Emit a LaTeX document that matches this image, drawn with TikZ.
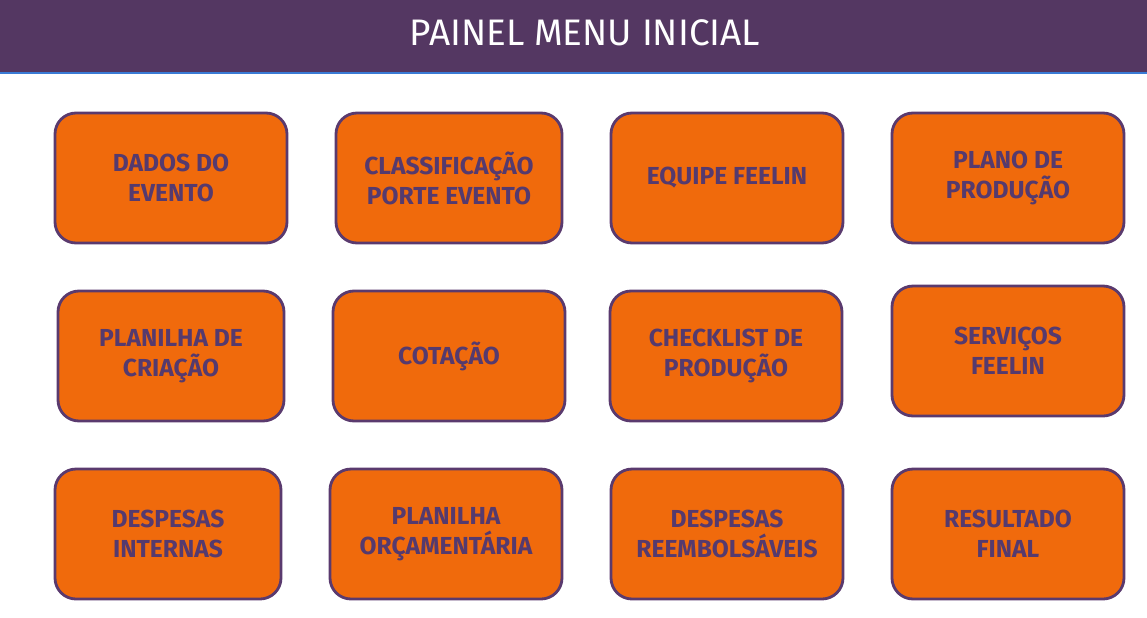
\documentclass[tikz,border=0pt]{standalone}
\usepackage{fontspec}
\setmainfont{Fira Sans}
\usetikzlibrary{positioning}
\definecolor{headpurple}{HTML}{543762}
\definecolor{boxorange}{HTML}{F06A0C}
\definecolor{boxline}{HTML}{5A3A6E}
\definecolor{textpurple}{HTML}{553A6E}
\definecolor{headline}{HTML}{3A7BD5}
\tikzset{
  menubox/.style={draw=boxline, line width=1.6pt, fill=boxorange, rounded corners=0.42cm,
    minimum width=4.64cm, minimum height=2.6cm, align=center, text=textpurple,
    font=\fontsize{14}{17}\selectfont\bfseries},
  narrow/.style={minimum width=4.52cm}
}
\begin{document}
\begin{tikzpicture}
\useasboundingbox (0,0) rectangle (22.94,-12.34);
\fill[headpurple] (0,0) rectangle (22.94,-1.46);
\draw[headline, line width=1pt] (0,-1.46) -- (22.94,-1.46);
\node[text=white, font=\fontsize{21}{25}\selectfont] (titulo) at (11.7,-0.66) {PAINEL MENU INICIAL};

% linha 1
\node[menubox] (dados) at (3.42,-3.56) {DADOS DO\\EVENTO};
\node[menubox, narrow] (classif) at (8.98,-3.56) {CLASSIFICAÇÃO\\PORTE EVENTO};
\node[menubox] (equipe) at (14.54,-3.56) {EQUIPE FEELIN};
\node[menubox] (plano) at (20.16,-3.56) {PLANO DE\\PRODUÇÃO};

% linha 2
\node[menubox, narrow] (criacao) at (3.42,-7.12) {PLANILHA DE\\CRIAÇÃO};
\node[menubox] (cotacao) at (8.98,-7.12) {COTAÇÃO};
\node[menubox] (checklist) at (14.52,-7.12) {CHECKLIST DE\\PRODUÇÃO};
\node[menubox] (servicos) at (20.16,-7.02) {SERVIÇOS\\FEELIN};

% linha 3
\node[menubox, narrow] (internas) at (3.36,-10.68) {DESPESAS\\INTERNAS};
\node[menubox] (orcament) at (8.92,-10.68) {PLANILHA\\ORÇAMENTÁRIA};
\node[menubox] (reembols) at (14.54,-10.68) {DESPESAS\\REEMBOLSÁVEIS};
\node[menubox] (resultado) at (20.16,-10.68) {RESULTADO\\FINAL};
\end{tikzpicture}
\end{document}
